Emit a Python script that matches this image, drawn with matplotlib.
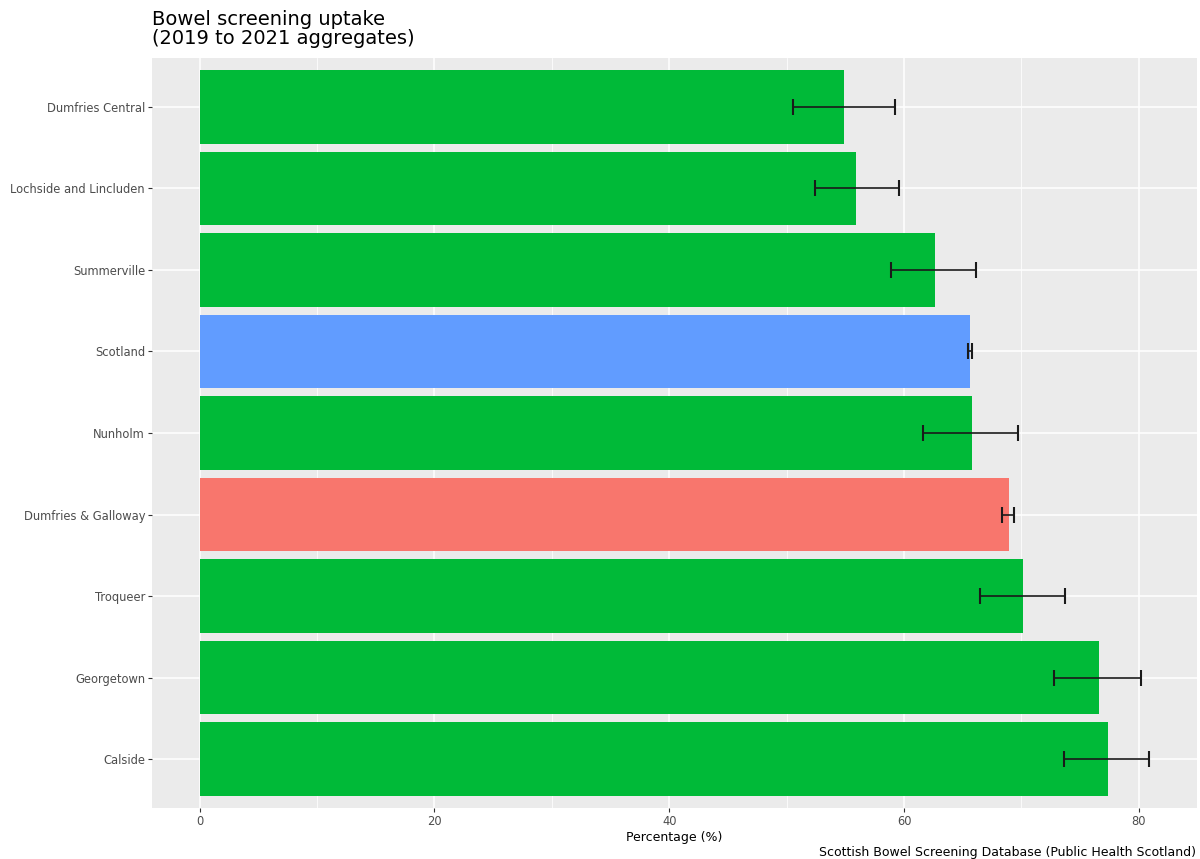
import matplotlib.pyplot as plt
import numpy as np

areas = ['Calside', 'Georgetown', 'Troqueer', 'Dumfries & Galloway', 'Nunholm',
         'Scotland', 'Summerville', 'Lochside and Lincluden', 'Dumfries Central']
uptake = [77.4, 76.6, 70.1, 68.9, 65.8, 65.6, 62.6, 55.9, 54.9]
ci_low = [73.6, 72.8, 66.5, 68.3, 61.6, 65.45, 58.9, 52.4, 50.5]
ci_high = [80.9, 80.2, 73.7, 69.4, 69.7, 65.75, 66.1, 59.6, 59.2]
area_type = ['ward', 'ward', 'ward', 'board', 'ward', 'country', 'ward', 'ward', 'ward']

type_colours = {'board': '#F8766D', 'ward': '#00BA38', 'country': '#619CFF'}

fig = plt.figure(figsize=(12, 8.59), dpi=100)
ax = fig.add_axes([152 / 1200, 51 / 859, 1045 / 1200, 750 / 859])
ax.set_facecolor('#EBEBEB')

y = np.arange(len(areas))
cols = [type_colours[t] for t in area_type]
ax.barh(y, uptake, height=0.9, color=cols, zorder=2)

err = [np.array(uptake) - np.array(ci_low), np.array(ci_high) - np.array(uptake)]
ax.errorbar(uptake, y, xerr=err, fmt='none', ecolor='#1a1a1a', elinewidth=1.2,
            capsize=6, capthick=1.5, zorder=3)

ax.set_xlim(-4.05, 84.95)
ax.set_ylim(-0.6, len(areas) - 0.4)
ax.set_xticks([0, 20, 40, 60, 80])
ax.set_xticks([10, 30, 50, 70], minor=True)
ax.set_yticks(y)
ax.set_yticklabels(areas)

ax.grid(which='major', color='white', linewidth=1.1, zorder=0)
ax.grid(which='minor', axis='x', color='white', linewidth=0.55, zorder=0)
ax.set_axisbelow(True)
for s in ax.spines.values():
    s.set_visible(False)
ax.tick_params(which='major', length=3, pad=2, color='#333333', labelcolor='#4D4D4D', labelsize=8.3)
ax.tick_params(which='minor', length=0)

ax.set_xlabel('Percentage (%)', fontsize=9, labelpad=2)
fig.text(152 / 1200, 1 - 10 / 859, 'Bowel screening uptake\n(2019 to 2021 aggregates)',
         fontsize=14, va='top', ha='left', linespacing=1.0)
fig.text(1196 / 1200, 0, 'Scottish Bowel Screening Database (Public Health Scotland)',
         fontsize=9, ha='right', va='bottom')

fig.savefig('out.png', dpi=100)
